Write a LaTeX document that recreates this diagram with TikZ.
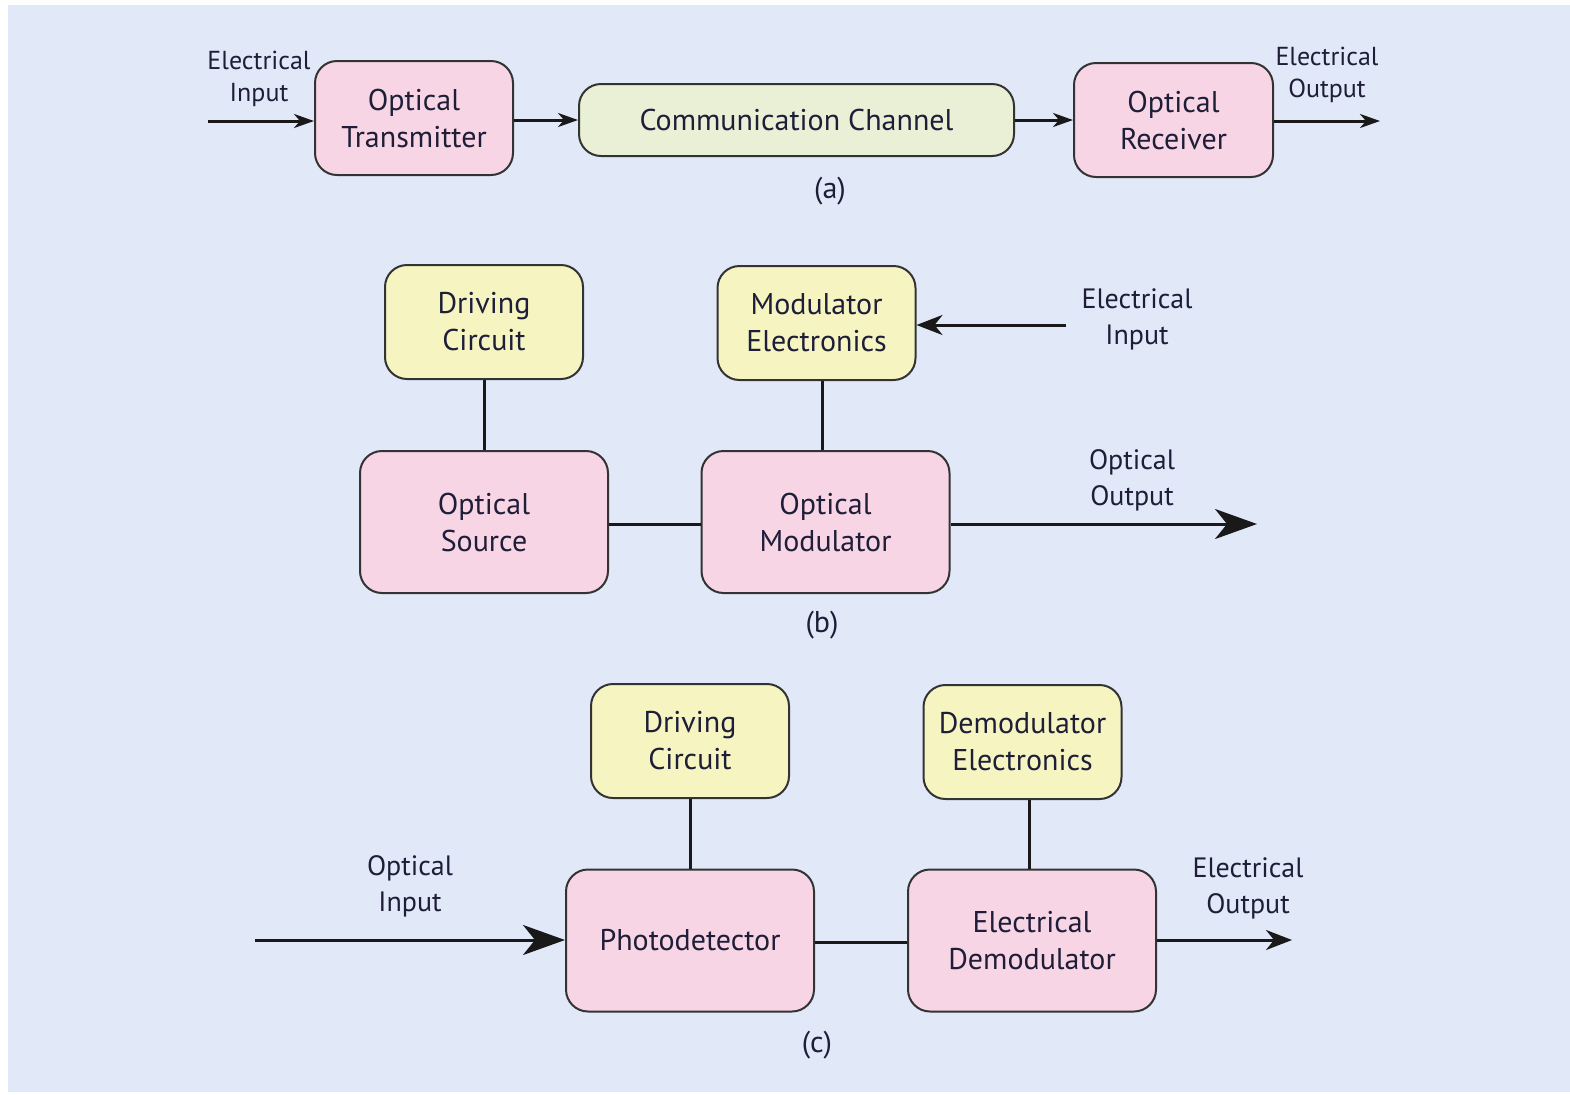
\documentclass[tikz,border=0pt]{standalone}
\usepackage{fontspec}
\setmainfont{PT Sans}
\usetikzlibrary{arrows.meta}

\definecolor{bgblue}{HTML}{E1E9F8}
\definecolor{boxpink}{HTML}{F8D5E5}
\definecolor{boxyellow}{HTML}{F6F5C2}
\definecolor{boxgreen}{HTML}{EAF0D6}
\definecolor{edgegray}{HTML}{333333}
\definecolor{inkblue}{HTML}{1E1E38}

\tikzset{
  blk/.style={draw=edgegray,line width=1pt,rounded corners=11pt,align=center,
    text=inkblue,font=\fontsize{15}{18.5}\selectfont,inner sep=0pt},
  smallblk/.style={blk,minimum width=99pt,minimum height=57pt},
  bigblk/.style={blk,fill=boxpink,minimum width=124pt,minimum height=71pt},
  lbl/.style={align=center,text=inkblue,font=\fontsize{14}{18}\selectfont,inner sep=0pt},
  lbla/.style={lbl,font=\fontsize{13}{16}\selectfont},
  capt/.style={lbl,font=\fontsize{15}{18}\selectfont},
  wire/.style={line width=1.5pt,black!90},
  arra/.style={wire,-{Stealth[length=10pt,width=7pt,inset=3pt]}},
  arrm/.style={wire,-{Stealth[length=13pt,width=10pt,inset=4pt]}},
  arrb/.style={wire,-{Stealth[length=21pt,width=15pt,inset=6pt]}}
}

\begin{document}
\begin{tikzpicture}[x=0.5pt,y=-0.5pt]

    \useasboundingbox (0,0) rectangle (1570,1094);
    \fill[bgblue] (8,5) rectangle (1570,1092);

    % (a)
    \node[smallblk,fill=boxpink] (tx) at (414,118) {Optical\\Transmitter};
    \node[blk,fill=boxgreen,minimum width=217.5pt,minimum height=36pt] (chan) at (796.5,120) {Communication Channel};
    \node[smallblk,fill=boxpink,minimum width=99.5pt] (rx) at (1173.5,120) {Optical\\Receiver};
    \node[lbla] (ina) at (259,79) {Electrical\\Input};
    \node[lbla] (outa) at (1327,75) {Electrical\\Output};
    \coordinate (ina0) at (208,121);
    \coordinate (outa1) at (1380,121);
    \draw[arra] (ina0) -- (ina0 -| tx.west);
    \draw[arra] (tx.east |- chan) -- (chan.west);
    \draw[arra] (chan.east) -- (chan.east -| rx.west);
    \draw[arra] (rx.east |- outa1) -- (outa1);
    \node[capt] (capa) at (830,191) {(a)};

    % (b)
    \node[smallblk,fill=boxyellow] (drvb) at (484,322) {Driving\\Circuit};
    \node[smallblk,fill=boxyellow] (model) at (816.5,323) {Modulator\\Electronics};
    \node[bigblk] (src) at (484,522) {Optical\\Source};
    \node[bigblk] (mod) at (825.5,522) {Optical\\Modulator};
    \node[lbl] (inb) at (1137,319) {Electrical\\Input};
    \node[lbl] (outb) at (1132,480) {Optical\\Output};
    \coordinate (inb0) at (1066,325);
    \coordinate (outb1) at (1257,524);
    \draw[wire] (drvb.south) -- (src.north);
    \draw[wire] (model.south -| 822,0) -- (mod.north -| 822,0);
    \draw[wire] (src.east |- outb1) -- (mod.west |- outb1);
    \draw[arrm] (inb0) -- (inb0 -| model.east);
    \draw[arrb] (mod.east |- outb1) -- (outb1);
    \node[capt] (capb) at (822,625) {(b)};

    % (c)
    \node[smallblk,fill=boxyellow] (drvc) at (690,741) {Driving\\Circuit};
    \node[smallblk,fill=boxyellow] (demel) at (1022.5,742) {Demodulator\\Electronics};
    \node[bigblk] (pd) at (690,940.5) {Photodetector};
    \node[bigblk] (demod) at (1032,940.5) {Electrical\\Demodulator};
    \node[lbl] (inc) at (410,886) {Optical\\Input};
    \node[lbl] (outc) at (1248,888) {Electrical\\Output};
    \coordinate (inc0) at (255,940);
    \coordinate (outc1) at (1292,940);
    \draw[wire] (drvc.south) -- (pd.north);
    \draw[wire] (demel.south -| 1029,0) -- (demod.north -| 1029,0);
    \draw[wire] (pd.east |- 0,942) -- (demod.west |- 0,942);
    \draw[arrb] (inc0) -- (inc0 -| pd.west);
    \draw[arrm] (demod.east |- outc1) -- (outc1);
    \node[capt] (capc) at (817,1045) {(c)};

\end{tikzpicture}
\end{document}
